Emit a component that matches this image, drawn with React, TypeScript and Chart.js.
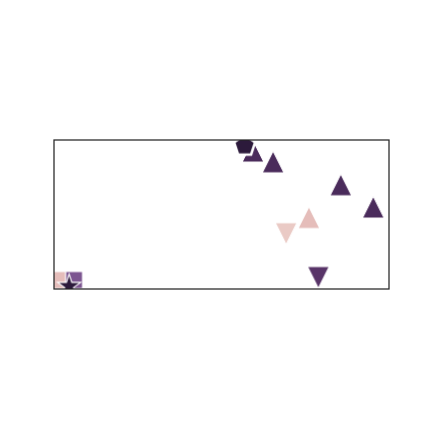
import React, { useEffect, useRef } from "react";
import { Chart, registerables } from "chart.js";

Chart.register(...registerables);

// Data (axis units 0..100, axes hidden as in the reference)
const xValues = [1.8, 6.0, 4.5, 59.4, 56.9, 65.4, 85.6, 95.3, 76.1, 69.3, 78.9];
const yValues = [6.0, 6.0, 2.7, 92.6, 96.6, 85.4, 70.0, 55.0, 48.0, 37.1, 7.7];
const markerKinds = ["square", "square", "star", "triUp", "pentagon", "triUp", "triUp", "triUp", "triUp", "triDown", "triDown"];
const hueLevels = [1, 3, 6, 5, 6, 5, 5, 5, 1, 0, 4];

const palette = ["#eacac5", "#e5bdba", "#c98fa0", "#7c5590", "#583468", "#4a2b5b", "#2c1a3b"];
const markerSize: Record<string, number> = { square: 17, star: 23, triUp: 22, triDown: 22, pentagon: 21 };
const edgeWidth: Record<string, number> = { square: 1.2, star: 1.2, triUp: 1.2, triDown: 1.2, pentagon: 2.5 };

function makeMarker(kind: string, size: number, fill: string, edge: number): HTMLCanvasElement {
  const pad = 3;
  const c = document.createElement("canvas");
  const dim = Math.ceil(size + pad * 2);
  c.width = dim;
  c.height = dim;
  const ctx = c.getContext("2d")!;
  const cx = dim / 2;
  const cy = dim / 2;
  const r = size / 2;
  ctx.beginPath();
  if (kind === "triUp") {
    ctx.moveTo(cx, cy - r);
    ctx.lineTo(cx - r, cy + r);
    ctx.lineTo(cx + r, cy + r);
  } else if (kind === "triDown") {
    ctx.moveTo(cx, cy + r);
    ctx.lineTo(cx - r, cy - r);
    ctx.lineTo(cx + r, cy - r);
  } else if (kind === "pentagon") {
    const R = r / Math.sin((72 * Math.PI) / 180);
    for (let k = 0; k < 5; k++) {
      const a = (-90 + 72 * k) * (Math.PI / 180);
      const px = cx + R * Math.cos(a);
      const py = cy + 0.05 * R + R * Math.sin(a);
      if (k === 0) ctx.moveTo(px, py);
      else ctx.lineTo(px, py);
    }
  } else if (kind === "star") {
    const R = r / Math.sin((72 * Math.PI) / 180);
    for (let k = 0; k < 10; k++) {
      const a = (-90 + 36 * k) * (Math.PI / 180);
      const rr = k % 2 === 0 ? R : R * 0.382;
      const px = cx + rr * Math.cos(a);
      const py = cy + 0.1 * R + rr * Math.sin(a);
      if (k === 0) ctx.moveTo(px, py);
      else ctx.lineTo(px, py);
    }
  } else {
    ctx.rect(cx - r, cy - r, size, size);
  }
  ctx.closePath();
  ctx.fillStyle = fill;
  ctx.fill();
  ctx.strokeStyle = "#ffffff";
  ctx.lineWidth = edge;
  ctx.stroke();
  return c;
}

const frame = {
  id: "frame",
  afterDraw(chart: any) {
    const { ctx, chartArea } = chart;
    ctx.save();
    ctx.strokeStyle = "#262626";
    ctx.lineWidth = 1.25;
    ctx.strokeRect(chartArea.left, chartArea.top, chartArea.right - chartArea.left, chartArea.bottom - chartArea.top);
    ctx.restore();
  },
};

export default function App() {
  const ref = useRef<HTMLCanvasElement>(null);
  useEffect(() => {
    if (!ref.current) return;
    const styles = markerKinds.map((k, i) => makeMarker(k, markerSize[k], palette[hueLevels[i]], edgeWidth[k]));
    const chart = new Chart(ref.current, {
      type: "scatter",
      data: {
        datasets: [
          {
            data: xValues.map((x, i) => ({ x, y: yValues[i] })),
            pointStyle: styles as any,
            pointRadius: 10,
            clip: 0 as any,
          },
        ],
      },
      options: {
        animation: false,
        responsive: false,
        devicePixelRatio: 1,
        events: [],
        layout: { padding: { left: 54, top: 140, right: 43, bottom: 143 } },
        scales: {
          x: { type: "linear", display: false, min: 0, max: 100 },
          y: { type: "linear", display: false, min: 0, max: 100 },
        },
        plugins: { legend: { display: false }, tooltip: { enabled: false } },
      },
      plugins: [frame],
    });
    return () => chart.destroy();
  }, []);
  return (
    <div style={{ position: "absolute", left: 0, top: 0, width: 432, height: 432, background: "#fff" }}>
      <canvas ref={ref} width={432} height={432} />
    </div>
  );
}
